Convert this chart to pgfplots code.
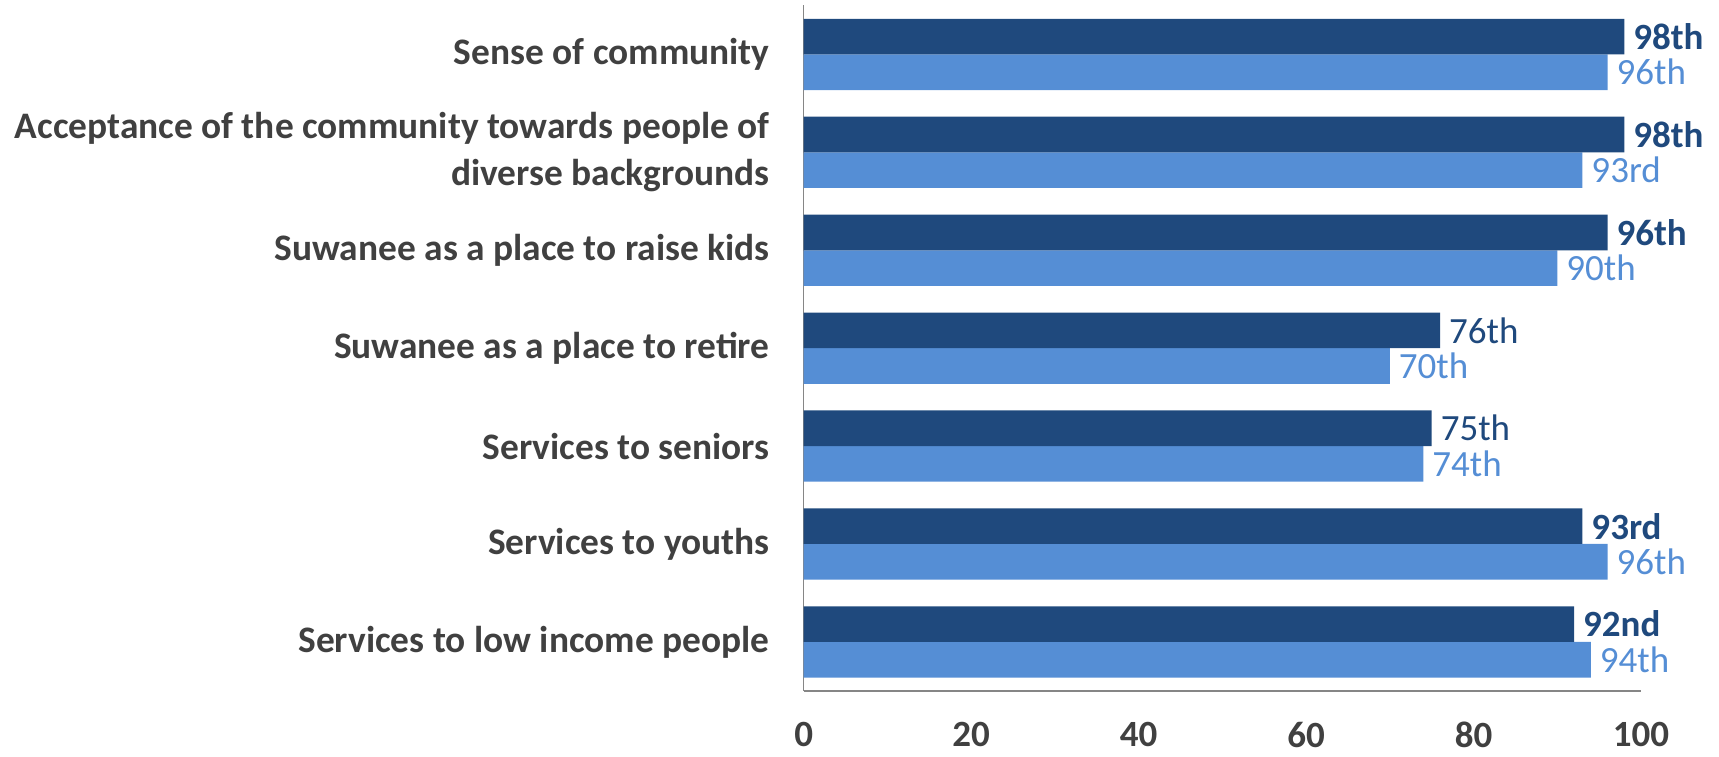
\documentclass[border=0pt]{standalone}
\usepackage{pgfplots}
\pgfplotsset{compat=1.18}
\usepackage{fontspec}
\setmainfont{Carlito}
\definecolor{darkbar}{HTML}{1F497D}
\definecolor{lightbar}{HTML}{558ED5}
\definecolor{labelgray}{HTML}{404040}
\definecolor{axisgray}{HTML}{868686}
\begin{document}
\begin{tikzpicture}
\begin{axis}[
    scale only axis,
    width=418.7pt, height=342.7pt,
    xbar=0pt, bar width=17.8pt,
    xmin=0, xmax=100,
    ymin=-0.5, ymax=6.5,
    clip=false,
    axis x line*=bottom, axis y line*=left,
    axis line style={axisgray, line width=0.8pt, -},
    major tick length=0pt,
    xtick={0,20,...,100},
    ytick={0,...,6},
    yticklabels={Services to low income people, Services to youths, Services to seniors,
        Suwanee as a place to retire, Suwanee as a place to raise kids,
        {Acceptance of the community towards people of\\diverse backgrounds},
        Sense of community},
    /pgf/number format/assume math mode=true,
    xticklabel style={font=\fontsize{18.5}{22}\selectfont\bfseries, text=labelgray, yshift=-12pt},
    yticklabel style={font=\fontsize{18.7}{23.5}\selectfont\bfseries, text=labelgray, align=right, xshift=-13.5pt},
    nodes near coords,
    point meta=explicit symbolic,
]
% light series (lower bar in each pair)
\addplot[fill=lightbar, draw=none,
    nodes near coords style={font=\fontsize{18.5}{22}\selectfont, text=lightbar, anchor=west, xshift=1pt}]
    table[x=v, y=c, meta=l] {
c v  l
0 94 94th
1 96 96th
2 74 74th
3 70 70th
4 90 90th
5 93 93rd
6 96 96th
};
% dark series (upper bar in each pair)
\addplot[fill=darkbar, draw=none,
    nodes near coords style={font=\fontsize{18.5}{22}\selectfont, text=darkbar, anchor=west, xshift=1pt}]
    table[x=v, y=c, meta=l] {
c v  l
0 92 \textbf{92nd}
1 93 \textbf{93rd}
2 75 75th
3 76 76th
4 96 \textbf{96th}
5 98 \textbf{98th}
6 98 \textbf{98th}
};
\path (rel axis cs:-0.9597,1.008) rectangle (rel axis cs:1.0931,-0.0963);
\end{axis}
\end{tikzpicture}
\end{document}
